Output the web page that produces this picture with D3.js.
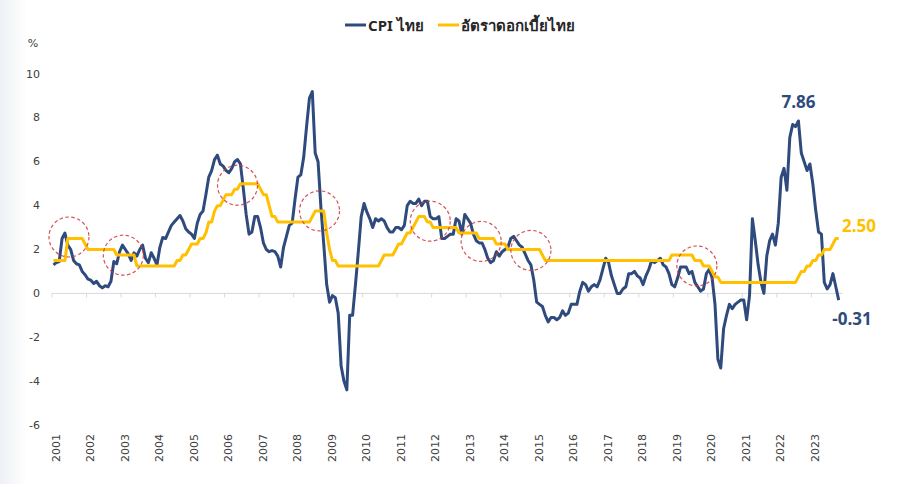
<!DOCTYPE html>
<html>
<head>
<meta charset="utf-8">
<script src="https://cdn.jsdelivr.net/npm/d3@7.9.0/dist/d3.min.js"></script>
<style>
  body { margin: 0; background: #ffffff; }
  svg { display: block; font-family: "DejaVu Sans", "Noto Sans", sans-serif; }
  .ytick { font-size: 11px; fill: #404040; }
  .xtick { font-size: 11px; fill: #404040; }
  .legend { font-family: "Noto Sans", "Open Sans", sans-serif; font-size: 15px; font-weight: bold; fill: #262626; }
  .callout { font-family: "Open Sans", "Noto Sans", sans-serif; font-size: 17px; font-weight: bold; }
</style>
</head>
<body>
<svg id="chart" width="914" height="484"></svg>
<script>
// monthly data, Jan 2001 .. Oct 2023
const years = d3.range(2001, 2024);
const yTicks = [-6, -4, -2, 0, 2, 4, 6, 8, 10];

const cpi = [
  1.3, 1.4, 1.45, 2.5, 2.75, 2.2, 2.0, 1.5, 1.35, 1.3, 1.0, 0.85,
  0.65, 0.6, 0.45, 0.55, 0.35, 0.25, 0.35, 0.3, 0.55, 1.45, 1.35, 1.9,
  2.2, 2.0, 1.8, 1.5, 1.85, 1.7, 2.0, 2.2, 1.6, 1.4, 1.85, 1.6,
  1.3, 2.1, 2.55, 2.5, 2.8, 3.1, 3.25, 3.4, 3.55, 3.3, 2.95, 2.8,
  2.7, 2.5, 3.2, 3.6, 3.75, 4.5, 5.3, 5.6, 6.1, 6.3, 5.9, 5.8,
  5.6, 5.5, 5.7, 6.0, 6.1, 5.9, 4.8, 3.6, 2.7, 2.8, 3.5, 3.5,
  3.0, 2.3, 2.0, 1.9, 1.95, 1.9, 1.7, 1.2, 2.1, 2.6, 3.1, 3.2,
  4.3, 5.3, 5.4, 6.2, 7.6, 8.9, 9.2, 6.4, 6.0, 3.9, 2.2, 0.4,
  -0.4, -0.1, -0.2, -0.9, -3.3, -4.0, -4.4, -1.0, -1.0, 0.4, 1.9, 3.5,
  4.1, 3.7, 3.4, 3.0, 3.4, 3.3, 3.4, 3.3, 3.0, 2.8, 2.8, 3.0,
  3.0, 2.9, 3.1, 4.0, 4.2, 4.1, 4.1, 4.3, 4.0, 4.2, 4.2, 3.5,
  3.4, 3.4, 3.5, 2.5, 2.5, 2.6, 2.7, 2.7, 3.4, 3.3, 2.7, 3.6,
  3.4, 3.2, 2.7, 2.4, 2.3, 2.3, 2.0, 1.6, 1.4, 1.5, 1.9, 1.7,
  1.9, 2.0, 2.1, 2.5, 2.6, 2.4, 2.2, 2.1, 1.8, 1.5, 1.3, 0.6,
  -0.4, -0.5, -0.6, -1.0, -1.3, -1.1, -1.1, -1.2, -1.1, -0.8, -1.0, -0.9,
  -0.5, -0.5, -0.5, 0.1, 0.5, 0.4, 0.1, 0.3, 0.4, 0.3, 0.6, 1.1,
  1.6, 1.4, 0.8, 0.4, 0.0, 0.0, 0.2, 0.3, 0.9, 0.9, 1.0, 0.8,
  0.7, 0.4, 0.8, 1.1, 1.5, 1.4, 1.5, 1.6, 1.3, 1.2, 0.9, 0.4,
  0.3, 0.7, 1.2, 1.2, 1.2, 0.9, 1.0, 0.5, 0.3, 0.1, 0.2, 0.9,
  1.1, 0.7, -0.5, -3.0, -3.4, -1.6, -1.0, -0.5, -0.7, -0.5, -0.4, -0.3,
  -0.3, -1.2, -0.1, 3.4, 2.4, 1.3, 0.5, 0.0, 1.7, 2.4, 2.7, 2.2,
  3.2, 5.3, 5.7, 4.7, 7.1, 7.7, 7.6, 7.86, 6.4, 6.0, 5.6, 5.9,
  5.0, 3.8, 2.8, 2.7, 0.5, 0.2, 0.4, 0.9, 0.3, -0.31
];

const policyRate = [
  1.5, 1.5, 1.5, 1.5, 1.5, 2.5, 2.5, 2.5, 2.5, 2.5, 2.5, 2.25,
  2.0, 2.0, 2.0, 2.0, 2.0, 2.0, 2.0, 2.0, 2.0, 2.0, 1.75, 1.75,
  1.75, 1.75, 1.75, 1.75, 1.75, 1.25, 1.25, 1.25, 1.25, 1.25, 1.25, 1.25,
  1.25, 1.25, 1.25, 1.25, 1.25, 1.25, 1.25, 1.5, 1.5, 1.75, 1.75, 2.0,
  2.25, 2.25, 2.25, 2.5, 2.5, 2.75, 3.25, 3.25, 3.75, 4.0, 4.0, 4.25,
  4.5, 4.5, 4.5, 4.75, 4.75, 5.0, 5.0, 5.0, 5.0, 5.0, 5.0, 5.0,
  4.75, 4.5, 4.5, 4.0, 3.5, 3.5, 3.25, 3.25, 3.25, 3.25, 3.25, 3.25,
  3.25, 3.25, 3.25, 3.25, 3.25, 3.25, 3.5, 3.75, 3.75, 3.75, 3.75, 2.75,
  2.0, 1.5, 1.5, 1.25, 1.25, 1.25, 1.25, 1.25, 1.25, 1.25, 1.25, 1.25,
  1.25, 1.25, 1.25, 1.25, 1.25, 1.25, 1.5, 1.75, 1.75, 1.75, 1.75, 2.0,
  2.25, 2.25, 2.5, 2.75, 2.75, 3.0, 3.25, 3.5, 3.5, 3.5, 3.25, 3.25,
  3.0, 3.0, 3.0, 3.0, 3.0, 3.0, 3.0, 3.0, 3.0, 2.75, 2.75, 2.75,
  2.75, 2.75, 2.75, 2.75, 2.5, 2.5, 2.5, 2.5, 2.5, 2.5, 2.25, 2.25,
  2.25, 2.25, 2.0, 2.0, 2.0, 2.0, 2.0, 2.0, 2.0, 2.0, 2.0, 2.0,
  2.0, 2.0, 1.75, 1.5, 1.5, 1.5, 1.5, 1.5, 1.5, 1.5, 1.5, 1.5,
  1.5, 1.5, 1.5, 1.5, 1.5, 1.5, 1.5, 1.5, 1.5, 1.5, 1.5, 1.5,
  1.5, 1.5, 1.5, 1.5, 1.5, 1.5, 1.5, 1.5, 1.5, 1.5, 1.5, 1.5,
  1.5, 1.5, 1.5, 1.5, 1.5, 1.5, 1.5, 1.5, 1.5, 1.5, 1.5, 1.75,
  1.75, 1.75, 1.75, 1.75, 1.75, 1.75, 1.75, 1.5, 1.5, 1.5, 1.25, 1.25,
  1.25, 1.0, 0.75, 0.75, 0.5, 0.5, 0.5, 0.5, 0.5, 0.5, 0.5, 0.5,
  0.5, 0.5, 0.5, 0.5, 0.5, 0.5, 0.5, 0.5, 0.5, 0.5, 0.5, 0.5,
  0.5, 0.5, 0.5, 0.5, 0.5, 0.5, 0.5, 0.75, 1.0, 1.0, 1.25, 1.25,
  1.5, 1.5, 1.75, 1.75, 2.0, 2.0, 2.0, 2.25, 2.5, 2.5
];

// dashed circles mark the policy-rate turning points (month index, value)
const circleMonths = [5.4, 24.3, 64, 92.5, 131, 148.7, 166, 223.7];
const circleValues = [2.57, 1.74, 4.93, 3.76, 3.29, 2.37, 1.96, 1.25];

const blue = "#2f4a7c";
const gold = "#ffc000";

const svg = d3.select("#chart");

// faint slide backdrop on the left edge
const grad = svg.append("defs").append("linearGradient").attr("id", "bg")
  .attr("x1", 0).attr("x2", 1).attr("y1", 0).attr("y2", 0);
grad.append("stop").attr("offset", "0").attr("stop-color", "#eef1f5");
grad.append("stop").attr("offset", "0.03").attr("stop-color", "#ffffff");
svg.append("rect").attr("width", 914).attr("height", 484).attr("fill", "url(#bg)");

const nCats = 275;
const x = d3.scaleLinear().domain([0, nCats]).range([52, 843]);
const y = d3.scaleLinear().domain([-6, 10]).range([425, 74]);

// y labels
svg.append("g").selectAll("text").data(yTicks).join("text")
  .attr("class", "ytick")
  .attr("x", 40).attr("y", d => y(d))
  .attr("text-anchor", "end").attr("dominant-baseline", "central")
  .text(d => d);
svg.append("text").attr("class", "ytick").attr("x", 33).attr("y", 43)
  .attr("text-anchor", "middle").attr("dominant-baseline", "central").text("%");

// zero axis with year ticks
svg.append("line").attr("x1", x(0)).attr("x2", x(nCats))
  .attr("y1", y(0)).attr("y2", y(0)).attr("stroke", "#d9d9d9").attr("stroke-width", 1);
svg.append("g").selectAll("line").data(years).join("line")
  .attr("x1", (d, i) => x(i * 12)).attr("x2", (d, i) => x(i * 12))
  .attr("y1", y(0)).attr("y2", y(0) + 4)
  .attr("stroke", "#d9d9d9").attr("stroke-width", 1);

svg.append("g").selectAll("text").data(years).join("text")
  .attr("class", "xtick")
  .attr("transform", (d, i) => `translate(${x(i * 12) + 4},462) rotate(-90)`)
  .attr("dominant-baseline", "central")
  .text(d => d);

// series
const line = d3.line().x((d, i) => x(i + 0.5)).y(d => y(d));
svg.append("path").datum(cpi).attr("d", line)
  .attr("fill", "none").attr("stroke", blue).attr("stroke-width", 3)
  .attr("stroke-linejoin", "round");
svg.append("path").datum(policyRate).attr("d", line)
  .attr("fill", "none").attr("stroke", gold).attr("stroke-width", 3)
  .attr("stroke-linejoin", "round");

// red dashed circles
svg.append("g").selectAll("circle").data(circleMonths).join("circle")
  .attr("cx", d => x(d + 0.5)).attr("cy", (d, i) => y(circleValues[i]))
  .attr("r", 20)
  .attr("fill", "none").attr("stroke", "#d0353a").attr("stroke-width", 1.2)
  .attr("stroke-dasharray", "3.5,2.5").attr("opacity", 0.85);

// call-outs
const last = cpi.length - 1;
const peakIdx = d3.maxIndex(cpi.slice(200)) + 200;
svg.append("text").attr("class", "callout").attr("fill", blue)
  .attr("x", x(peakIdx + 0.5)).attr("y", 108).attr("text-anchor", "middle")
  .text(cpi[peakIdx].toFixed(2));
svg.append("text").attr("class", "callout").attr("fill", blue)
  .attr("x", 852).attr("y", 325).attr("text-anchor", "middle")
  .text(cpi[last].toFixed(2));
svg.append("text").attr("class", "callout").attr("fill", gold)
  .attr("x", 842).attr("y", 232)
  .text(policyRate[last].toFixed(2));

// legend
const legend = svg.append("g");
const items = [
  { label: "CPI ไทย", color: blue, x: 345 },
  { label: "อัตราดอกเบี้ยไทย", color: gold, x: 438 }
];
items.forEach(it => {
  legend.append("line").attr("x1", it.x).attr("x2", it.x + 21)
    .attr("y1", 25).attr("y2", 25).attr("stroke", it.color).attr("stroke-width", 3);
  legend.append("text").attr("class", "legend").attr("x", it.x + 23).attr("y", 25)
    .attr("dominant-baseline", "central").text(it.label);
});
</script>
</body>
</html>
